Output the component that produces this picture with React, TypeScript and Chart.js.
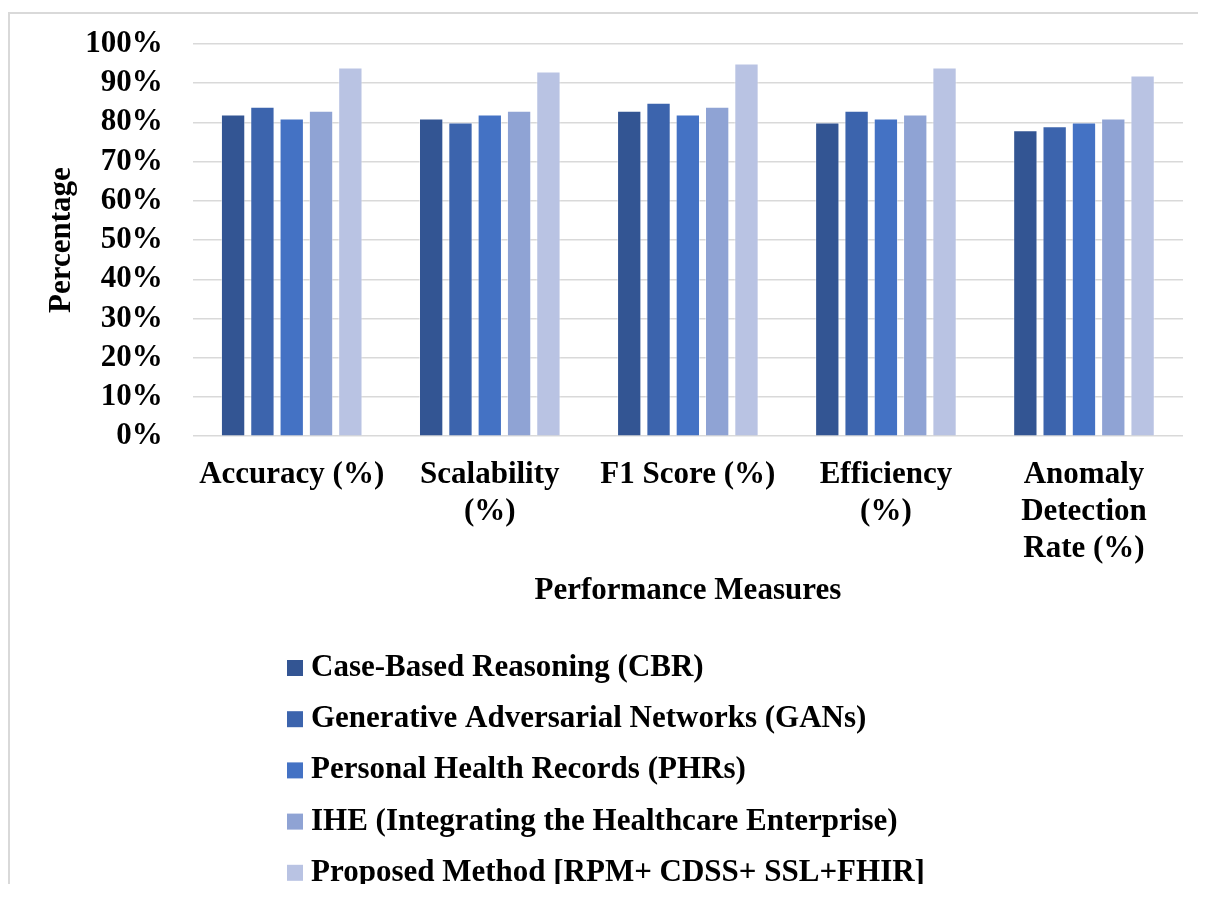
import React, { useEffect, useRef } from "react";
import { Chart, registerables } from "chart.js";

Chart.register(...registerables);

// ---- Data ----
const categories: string[][] = [
  ["Accuracy (%)"],
  ["Scalability", "(%)"],
  ["F1 Score (%)"],
  ["Efficiency", "(%)"],
  ["Anomaly", "Detection", "Rate (%)"],
];

const seriesNames: string[] = [
  "Case-Based Reasoning (CBR)",
  "Generative Adversarial Networks (GANs)",
  "Personal Health Records (PHRs)",
  "IHE (Integrating the Healthcare Enterprise)",
  "Proposed Method [RPM+ CDSS+ SSL+FHIR]",
];

const cbrValues: number[] = [82, 81, 83, 80, 78];
const gansValues: number[] = [84, 80, 85, 83, 79];
const phrsValues: number[] = [81, 82, 82, 81, 80];
const iheValues: number[] = [83, 83, 84, 82, 81];
const proposedValues: number[] = [94, 93, 95, 94, 92];

const seriesColors: string[] = ["#335593", "#3C64AD", "#4472C4", "#8FA3D4", "#B9C3E3"];

const yMin = 0;
const yMax = 100;
const yStep = 10;

const yTitle = "Percentage";
const xTitle = "Performance Measures";

// ---- Styles ----
const FONT_FAMILY = "'Liberation Serif', 'Times New Roman', serif";
const FONT_SIZE = 31;

const stackedLegendPlugin = {
  id: "stackedLegend",
  afterDraw(chart: any) {
    const ctx = chart.ctx as CanvasRenderingContext2D;
    const startX = 277;
    const startY = 654;
    const step = 51.2;
    const box = 16;
    ctx.save();
    ctx.font = `bold ${FONT_SIZE}px ${FONT_FAMILY}`;
    ctx.textBaseline = "middle";
    ctx.textAlign = "left";
    chart.data.datasets.forEach((ds: any, i: number) => {
      const cy = startY + i * step;
      ctx.fillStyle = ds.backgroundColor;
      ctx.fillRect(startX, cy - box / 2, box, box);
      ctx.fillStyle = "#000000";
      ctx.fillText(ds.label, startX + 24, cy);
    });
    ctx.restore();
  },
};

export default function App() {
  const canvasRef = useRef<HTMLCanvasElement | null>(null);

  useEffect(() => {
    if (!canvasRef.current) return;
    const valuesList = [cbrValues, gansValues, phrsValues, iheValues, proposedValues];
    const chart = new Chart(canvasRef.current, {
      type: "bar",
      data: {
        labels: categories,
        datasets: seriesNames.map((name, i) => ({
          label: name,
          data: valuesList[i],
          backgroundColor: seriesColors[i],
          borderColor: "rgba(255,255,255,0.45)",
          borderWidth: 1,
          categoryPercentage: 0.74,
          barPercentage: 0.83,
        })),
      },
      options: {
        animation: false,
        responsive: true,
        maintainAspectRatio: false,
        layout: { padding: { top: 30, right: 15, bottom: 274, left: 0 } },
        plugins: {
          legend: { display: false },
          tooltip: { enabled: false },
        },
        scales: {
          x: {
            grid: { display: false, drawTicks: false },
            border: { display: false },
            ticks: {
              color: "#000000",
              padding: 20,
              maxRotation: 0,
              autoSkip: false,
              font: { family: FONT_FAMILY, size: FONT_SIZE, weight: "bold", lineHeight: 1.2 },
            },
            title: {
              display: true,
              text: xTitle,
              color: "#000000",
              padding: { top: -15, bottom: 0 },
              font: { family: FONT_FAMILY, size: FONT_SIZE, weight: "bold", lineHeight: 1.2 },
            },
          },
          y: {
            min: yMin,
            max: yMax,
            grid: {
              color: "#d9d9d9",
              lineWidth: 1.6,
              drawTicks: true,
              tickLength: 30,
              tickColor: "rgba(0,0,0,0)",
            },
            border: { display: false },
            ticks: {
              stepSize: yStep,
              autoSkip: false,
              color: "#000000",
              padding: 0,
              callback: (v: any) => `${v}%`,
              font: { family: FONT_FAMILY, size: FONT_SIZE, weight: "bold", lineHeight: 1.2 },
            },
            title: {
              display: true,
              text: yTitle,
              color: "#000000",
              padding: { top: 33, bottom: 5 },
              font: { family: FONT_FAMILY, size: FONT_SIZE, weight: "bold", lineHeight: 1.2 },
            },
          },
        },
      },
      plugins: [stackedLegendPlugin],
    });
    return () => chart.destroy();
  }, []);

  return (
    <div style={{ paddingTop: 4 }}>
      <div
        style={{
          borderTop: "2px solid #d9d9d9",
          borderLeft: "2px solid #d9d9d9",
          width: 1188,
          height: 870,
          position: "relative",
          background: "#ffffff",
        }}
      >
        <canvas ref={canvasRef} />
      </div>
    </div>
  );
}
